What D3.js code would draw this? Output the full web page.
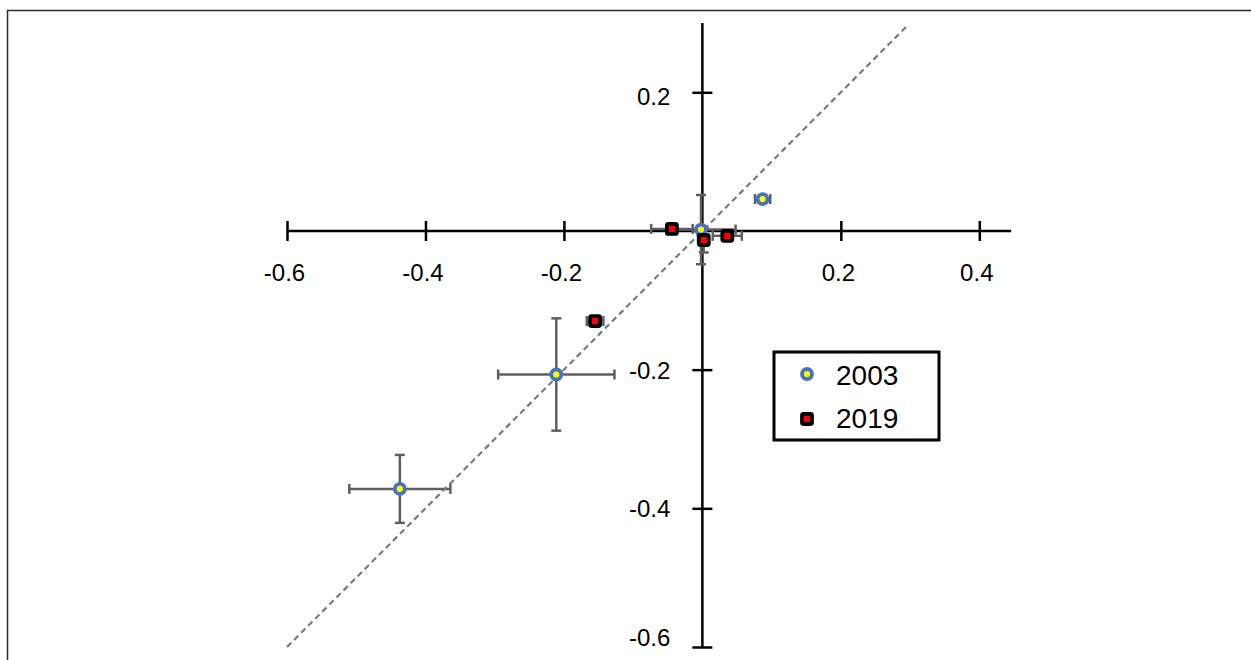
<!DOCTYPE html>
<html>
<head>
<meta charset="utf-8">
<script src="https://cdn.jsdelivr.net/npm/d3@7"></script>
<style>
  body { margin: 0; background: #fff; }
  svg text { font-family: "Liberation Sans", Arial, sans-serif; fill: #000; }
</style>
</head>
<body>
<svg id="chart" width="1251" height="660"></svg>
<script>
// series 2003 (blue ring, yellow centre)
var x2003 = [-0.002, 0.087, -0.211, -0.437];
var y2003 = [0.002, 0.046, -0.207, -0.372];
var xErr2003 = [0.05, 0.011, 0.084, 0.073];
var yErr2003 = [0.05, 0, 0.081, 0.049];

// series 2019 (black square, red centre)
var x2019 = [-0.044, 0.002, 0.036, -0.155];
var y2019 = [0.003, -0.013, -0.007, -0.130];
var xErr2019 = [0.03, 0, 0.021, 0.012];
var yErr2019 = [0, 0.018, 0, 0];

var xTicks = [-0.6, -0.4, -0.2, 0.2, 0.4];
var yTicks = [0.2, -0.2, -0.4, -0.6];
var seriesNames = ["2003", "2019"];

var svg = d3.select("#chart");

// outer frame (runs off the right/bottom edge)
svg.append("rect")
  .attr("x", 7.5).attr("y", 10.5)
  .attr("width", 1400).attr("height", 800)
  .attr("fill", "none").attr("stroke", "#2b2b2b").attr("stroke-width", 1.5);

var x = d3.scaleLinear().domain([-0.6, 0.4]).range([287, 979.3]);
var y = d3.scaleLinear().domain([-0.6, 0.2]).range([647, 92.3]);

var xMax = 0.446, yMax = 0.3;

// axes lines
svg.append("line")
  .attr("x1", x(-0.6)).attr("x2", x(xMax))
  .attr("y1", y(0)).attr("y2", y(0))
  .attr("stroke", "#000").attr("stroke-width", 2.5);
svg.append("line")
  .attr("x1", x(0)).attr("x2", x(0))
  .attr("y1", y(-0.6)).attr("y2", y(yMax))
  .attr("stroke", "#000").attr("stroke-width", 2.5);

// plain hyphen as minus sign, like the original
var fmt = function(d) { return d3.format(".1f")(d).replace("\u2212", "-"); };

// x axis ticks (crossing) + labels
var xAxis = d3.axisBottom(x).tickValues(xTicks).tickFormat(fmt).tickSize(0).tickPadding(0);
var gx = svg.append("g").attr("transform", "translate(0," + y(0) + ")").call(xAxis);
gx.select(".domain").remove();
gx.selectAll(".tick line").attr("y1", -10).attr("y2", 10)
  .attr("stroke", "#000").attr("stroke-width", 2.5);
gx.selectAll(".tick text")
  .attr("y", 50).attr("dy", 0).attr("dx", -3)
  .attr("font-size", 24).attr("font-family", "Liberation Sans, Arial, sans-serif");

// y axis ticks (crossing) + labels
var yAxis = d3.axisLeft(y).tickValues(yTicks).tickFormat(fmt).tickSize(0).tickPadding(0);
var gy = svg.append("g").attr("transform", "translate(" + x(0) + ",0)").call(yAxis);
gy.select(".domain").remove();
gy.selectAll(".tick line").attr("x1", -10).attr("x2", 10)
  .attr("stroke", "#000").attr("stroke-width", 2.5);
gy.selectAll(".tick text")
  .attr("x", -32)
  .attr("dy", function(d) { return d === -0.6 ? "-0.05em" : (d === 0.2 ? "0.52em" : "0.36em"); })
  .attr("font-size", 24).attr("font-family", "Liberation Sans, Arial, sans-serif");

// build point tables
var pts2003 = x2003.map(function(d, i) {
  return {x: d, y: y2003[i], ex: xErr2003[i], ey: yErr2003[i]};
});
var pts2019 = x2019.map(function(d, i) {
  return {x: d, y: y2019[i], ex: xErr2019[i], ey: yErr2019[i]};
});

// error bars
var errColor = "#5f5f5f", cap = 5;
function errorBars(data) {
  var g = svg.append("g").attr("stroke", errColor).attr("stroke-width", 2.5);
  data.forEach(function(p) {
    if (p.ex > 0) {
      g.append("line").attr("x1", x(p.x - p.ex)).attr("x2", x(p.x + p.ex))
        .attr("y1", y(p.y)).attr("y2", y(p.y));
      [p.x - p.ex, p.x + p.ex].forEach(function(v) {
        g.append("line").attr("x1", x(v)).attr("x2", x(v))
          .attr("y1", y(p.y) - cap).attr("y2", y(p.y) + cap);
      });
    }
    if (p.ey > 0) {
      g.append("line").attr("x1", x(p.x)).attr("x2", x(p.x))
        .attr("y1", y(p.y - p.ey)).attr("y2", y(p.y + p.ey));
      [p.y - p.ey, p.y + p.ey].forEach(function(v) {
        g.append("line").attr("x1", x(p.x) - cap).attr("x2", x(p.x) + cap)
          .attr("y1", y(v)).attr("y2", y(v));
      });
    }
  });
}
errorBars(pts2003);
errorBars(pts2019);

// y = x reference line
svg.append("line")
  .attr("x1", x(-0.6)).attr("y1", y(-0.6))
  .attr("x2", x(0.297)).attr("y2", y(0.297))
  .attr("stroke", "#7a7a7a").attr("stroke-width", 2.2)
  .attr("stroke-dasharray", "6,4");

// markers
function circleMark(g, cx, cy) {
  g.append("circle").attr("cx", cx).attr("cy", cy).attr("r", 5)
    .attr("fill", "#ffff00").attr("stroke", "#4472c4").attr("stroke-width", 3.8);
}
function squareMark(g, cx, cy) {
  g.append("rect").attr("x", cx - 5).attr("y", cy - 5)
    .attr("width", 10).attr("height", 10).attr("rx", 1.5)
    .attr("fill", "#ff0000").attr("stroke", "#000").attr("stroke-width", 3.8)
    .attr("stroke-linejoin", "round");
}
var gm = svg.append("g");
pts2003.forEach(function(p) { circleMark(gm, x(p.x), y(p.y)); });
pts2019.forEach(function(p) { squareMark(gm, x(p.x), y(p.y)); });

// legend
var lg = svg.append("g");
lg.append("rect").attr("x", 774).attr("y", 352).attr("width", 165).attr("height", 88)
  .attr("fill", "#fff").attr("stroke", "#000").attr("stroke-width", 3);
circleMark(lg, 807, 374);
squareMark(lg, 807, 419);
lg.selectAll("text.leg").data(seriesNames).enter().append("text")
  .attr("class", "leg")
  .attr("x", 836)
  .attr("y", function(d, i) { return i === 0 ? 385 : 428; })
  .attr("font-size", 28)
  .text(function(d) { return d; });
</script>
</body>
</html>
